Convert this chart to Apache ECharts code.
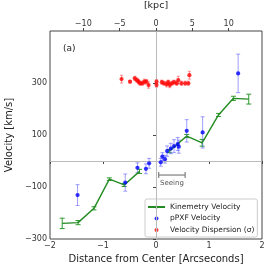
<!DOCTYPE html>
<html><head><meta charset="utf-8">
<script src="https://cdn.jsdelivr.net/npm/echarts@6/dist/echarts.min.js"></script>
<style>html,body{margin:0;padding:0;background:#fff}#c{width:271px;height:273px}</style>
</head><body><div id="c"></div>
<script>
// Kinemetry velocity (green line with error bars); null = no measurement
const kinX   = [-1.77, -1.47, -1.17, -0.88, -0.60, -0.31, 0.0, 0.25, 0.58, 0.87, 1.18, 1.46, 1.75];
const kinY   = [-240, -237, -182, -70, -92, -40, null, 38, 96, 70, 177, 241, 238];
const kinErr = [20, 8, 6, 5, 6, 8, null, 6, 6, 13, 6, 8, 19];
// pPXF velocity (blue)
const pX   = [-1.48, -0.58, -0.35, -0.19, -0.13, 0.09, 0.12, 0.17, 0.21, 0.28, 0.34, 0.41, 0.43, 0.58, 0.88, 1.55];
const pY   = [-131, -83, -26, -30, -9, -5, 17, 7, 38, 48, 57, 65, 55, 116, 110, 337];
const pErr = [40, 33, 19, 19, 19, 15, 15, 15, 20, 20, 25, 25, 25, 43, 60, 74];
// Velocity dispersion (red)
const rX   = [-0.65, -0.49, -0.40, -0.36, -0.33, -0.30, -0.26, -0.22, -0.18, -0.14, 0.01, 0.01, 0.11, 0.15, 0.20, 0.23, 0.26, 0.30, 0.34, 0.39, 0.42, 0.48, 0.55, 0.61, 0.63];
const rY   = [315, 305, 318, 311, 305, 299, 299, 305, 305, 292, 305, 292, 303, 299, 295, 303, 292, 299, 303, 299, 311, 299, 299, 299, 330];
const rErr = [15, 5, 8, 8, 8, 8, 8, 10, 8, 12, 8, 8, 8, 8, 10, 8, 10, 8, 8, 8, 15, 8, 8, 8, 15];
// Seeing bar
const seeingStart = 0.05, seeingWidth = 0.5, seeingY = -54;
// Axes
const xTicks = [-2, -1, 0, 1, 2];
const yTicks = [-300, -100, 100, 300];
const kpcTicks = [-10, -5, 0, 5, 10];
const kpcPerArcsec = 7.29;

const FONT = 'DejaVu Sans';
const AX = '#444';
const fmt = v => String(v).replace('-', '\u2212');

function errBar(color, cap, lw) {
  return function (params, api) {
    const x = api.value(0), y = api.value(1), e = api.value(2);
    if (isNaN(y) || isNaN(e)) return null;
    const t = api.coord([x, y + e]), b = api.coord([x, y - e]);
    const st = { stroke: color, lineWidth: lw };
    return { type: 'group', children: [
      { type: 'line', shape: { x1: t[0], y1: t[1], x2: b[0], y2: b[1] }, style: st },
      { type: 'line', shape: { x1: t[0] - cap, y1: t[1], x2: t[0] + cap, y2: t[1] }, style: st },
      { type: 'line', shape: { x1: b[0] - cap, y1: b[1], x2: b[0] + cap, y2: b[1] }, style: st }
    ]};
  };
}
const zip3 = (a, b, c) => a.map((v, i) => [v, b[i] === null ? '-' : b[i], c[i] === null ? '-' : c[i]]);

const chart = echarts.init(document.getElementById('c'));
chart.setOption({
  animation: false,
  textStyle: { fontFamily: FONT },
  grid: { left: 50, right: 9, top: 31, bottom: 34, outerBoundsMode: 'none', containLabel: false,
    show: true, borderColor: AX, borderWidth: 1, backgroundColor: 'transparent' },
  xAxis: [
    { type: 'value', position: 'bottom', min: xTicks[0], max: xTicks[xTicks.length - 1], interval: 1,
      name: 'Distance from Center [Arcseconds]', nameLocation: 'middle', nameGap: 15,
      nameTextStyle: { fontSize: 10, color: '#222', fontFamily: FONT },
      axisLine: { show: false }, splitLine: { show: false },
      axisTick: { show: true, length: 3, lineStyle: { color: AX } },
      axisLabel: { fontSize: 8, color: '#333', margin: 3, formatter: fmt } },
    { type: 'value', position: 'top', min: -2 * kpcPerArcsec, max: 2 * kpcPerArcsec,
      name: '[kpc]', nameLocation: 'middle', nameGap: 20,
      nameTextStyle: { fontSize: 9.5, color: '#222', fontFamily: FONT },
      axisLine: { show: false }, splitLine: { show: false },
      axisTick: { show: true, length: 3, lineStyle: { color: AX }, customValues: kpcTicks },
      axisLabel: { fontSize: 8, color: '#333', margin: 3, formatter: fmt, customValues: kpcTicks } }
  ],
  yAxis: [
    { type: 'value', min: -300, max: 500, interval: 200,
      name: 'Velocity [km/s]', nameLocation: 'middle', nameGap: 34,
      nameTextStyle: { fontSize: 10, color: '#222', fontFamily: FONT },
      axisLine: { show: false }, splitLine: { show: false },
      axisTick: { show: true, length: 3, lineStyle: { color: AX }, customValues: yTicks },
      axisLabel: { fontSize: 8, color: '#333', margin: 3, formatter: fmt, customValues: yTicks } }
  ],
  legend: {
    orient: 'vertical', left: 145, top: 199, padding: [4, 3, 3, 2],
    itemWidth: 17, itemHeight: 4, itemGap: 3.5,
    borderColor: '#ccc', borderWidth: 1, borderRadius: 2, backgroundColor: 'rgba(255,255,255,0.8)',
    textStyle: { fontSize: 7.5, color: '#222', fontFamily: FONT, padding: [0, 0, 0, 0] },
    data: [
      { name: 'Kinemetry Velocity' },
      { name: 'pPXF Velocity', icon: 'circle' },
      { name: 'Velocity Dispersion (σ)', icon: 'circle' }
    ]
  },
  graphic: [
    { type: 'text', left: 63, top: 44, style: { text: '(a)', fontSize: 9, fill: '#222', fontFamily: FONT } }
  ],
  series: [
    { type: 'line', name: 'ref', data: [], silent: true,
      markLine: { symbol: 'none', silent: true, label: { show: false },
        lineStyle: { color: '#bbb', width: 1, type: 'solid' },
        data: [{ xAxis: 0 }, { yAxis: 0 }] } },
    { type: 'custom', name: 'kin err', renderItem: errBar('#2e9a2e', 2.5, 1), data: zip3(kinX, kinY, kinErr), encode: { x: 0, y: 1 }, z: 3 },
    { type: 'line', name: 'Kinemetry Velocity', data: kinX.map((x, i) => [x, kinY[i] === null ? '-' : kinY[i]]),
      symbol: 'none', connectNulls: false, lineStyle: { color: '#228b22', width: 1.4 }, itemStyle: { color: '#228b22' }, z: 4 },
    { type: 'custom', name: 'pPXF err', renderItem: errBar('rgba(80,80,255,0.55)', 2, 1), data: zip3(pX, pY, pErr), encode: { x: 0, y: 1 }, z: 3 },
    { type: 'scatter', name: 'pPXF Velocity', data: pX.map((x, i) => [x, pY[i]]), symbol: 'circle', symbolSize: 4.2,
      itemStyle: { color: '#0000ff' }, z: 5 },
    { type: 'custom', name: 'disp err', renderItem: errBar('rgba(255,60,60,0.55)', 1.5, 1), data: zip3(rX, rY, rErr), encode: { x: 0, y: 1 }, z: 3 },
    { type: 'scatter', name: 'Velocity Dispersion (σ)', data: rX.map((x, i) => [x, rY[i]]), symbol: 'circle', symbolSize: 4.2,
      itemStyle: { color: '#ff0000' }, z: 5 },
    { type: 'custom', name: 'seeing', data: [[seeingStart, seeingStart + seeingWidth, seeingY]], silent: true,
      renderItem: function (params, api) {
        const a = api.coord([api.value(0), api.value(2)]), b = api.coord([api.value(1), api.value(2)]);
        const st = { stroke: '#888', lineWidth: 1.3 };
        return { type: 'group', children: [
          { type: 'line', shape: { x1: a[0], y1: a[1], x2: b[0], y2: b[1] }, style: st },
          { type: 'line', shape: { x1: a[0], y1: a[1] - 3, x2: a[0], y2: a[1] + 3 }, style: st },
          { type: 'line', shape: { x1: b[0], y1: b[1] - 3, x2: b[0], y2: b[1] + 3 }, style: st },
          { type: 'text', x: (a[0] + b[0]) / 2, y: a[1] + 5, style: { text: 'Seeing', fontSize: 7, fill: '#555', fontFamily: FONT, align: 'center', verticalAlign: 'top' } }
        ]};
      }, encode: { x: [0, 1], y: 2 } }
  ]
});
</script></body></html>
